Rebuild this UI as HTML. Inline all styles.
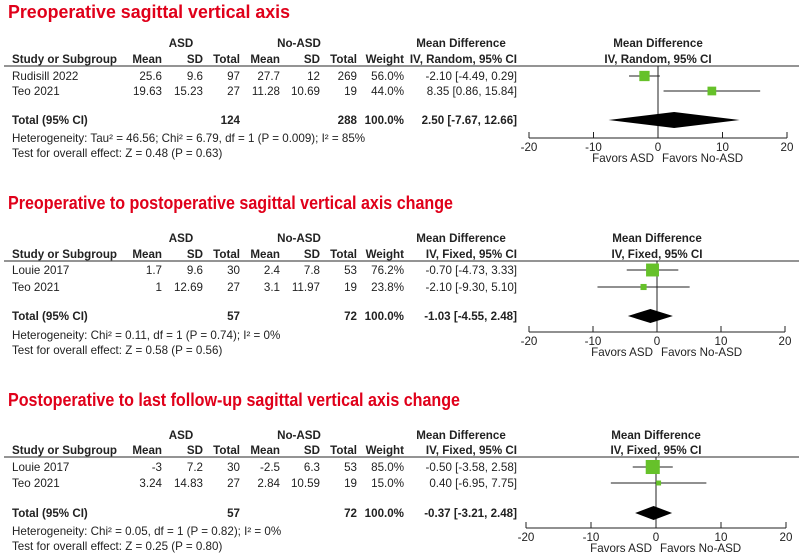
<!DOCTYPE html>
<html><head><meta charset="utf-8">
<style>
html,body{margin:0;padding:0;background:#fff;}
svg{display:block;font-family:"Liberation Sans",Arial,sans-serif;}
.t{font-size:11.6px;fill:#222;}
.b{font-weight:bold;}
.title{font-size:18px;font-weight:bold;fill:#e0001a;}
</style></head>
<body>
<svg id="chart" width="799" height="559" viewBox="0 0 799 559"></svg>
<script>
// Panel 1 data
const p1Titles = "Preoperative sagittal vertical axis";
const p1Studies = ["Rudisill 2022","Teo 2021"];
const p1AsdMean = ["25.6","19.63"], p1AsdSD = ["9.6","15.23"], p1AsdN = ["97","27"];
const p1NoMean = ["27.7","11.28"], p1NoSD = ["12","10.69"], p1NoN = ["269","19"];
const p1Weight = [56.0,44.0];
const p1MD = [-2.10,8.35], p1Lo = [-4.49,0.86], p1Hi = [0.29,15.84];
const p1Total = [2.50,-7.67,12.66], p1TotN = ["124","288"];
// Panel 2 data
const p2Studies = ["Louie 2017","Teo 2021"];
const p2AsdMean = ["1.7","1"], p2AsdSD = ["9.6","12.69"], p2AsdN = ["30","27"];
const p2NoMean = ["2.4","3.1"], p2NoSD = ["7.8","11.97"], p2NoN = ["53","19"];
const p2Weight = [76.2,23.8];
const p2MD = [-0.70,-2.10], p2Lo = [-4.73,-9.30], p2Hi = [3.33,5.10];
const p2Total = [-1.03,-4.55,2.48], p2TotN = ["57","72"];
// Panel 3 data
const p3Studies = ["Louie 2017","Teo 2021"];
const p3AsdMean = ["-3","3.24"], p3AsdSD = ["7.2","14.83"], p3AsdN = ["30","27"];
const p3NoMean = ["-2.5","2.84"], p3NoSD = ["6.3","10.59"], p3NoN = ["53","19"];
const p3Weight = [85.0,15.0];
const p3MD = [-0.50,0.40], p3Lo = [-3.58,-6.95], p3Hi = [2.58,7.75];
const p3Total = [-0.37,-3.21,2.48], p3TotN = ["57","72"];
const axisTicks = [-20,-10,0,10,20];

const NS="http://www.w3.org/2000/svg";
const svg=document.getElementById('chart');
function mk(tag,attrs,parent){const e=document.createElementNS(NS,tag);for(const k in attrs)e.setAttribute(k,attrs[k]);(parent||svg).appendChild(e);return e;}
function txt(x,y,s,anchor,cls,name,parent){const e=mk('text',{x:x,y:y,'text-anchor':anchor||'start','class':cls||'t'},parent);e.textContent=s;


return e;}
function f2(v){return v.toFixed(2);}

function panel(o){
  const g=mk('g',{});
  
  
  const tt=txt(8,o.y0,o.title,'start','title','panel-title',g);
  tt.setAttribute('textLength',o.tw);
  tt.setAttribute('lengthAdjust','spacingAndGlyphs');
  const c=o.cols;
  txt(c.asdC,o.hy1,'ASD','middle','t b','asd-group-header',g);
  txt(c.noC,o.hy1,'No-ASD','middle','t b','no-asd-group-header',g);
  txt(c.mdC,o.hy1,'Mean Difference','middle','t b','md-header',g);
  txt(o.zx,o.hy1,'Mean Difference','middle','t b','plot-header',g);
  txt(12,o.hy2,'Study or Subgroup','start','t b','study-column-header',g);
  const hdr=['Mean','SD','Total','Mean','SD','Total','Weight'];
  const xs=[c.m1,c.s1,c.n1,c.m2,c.s2,c.n2,c.w];
  hdr.forEach((h,i)=>txt(xs[i],o.hy2,h,'end','t b','column-header',g));
  txt(c.md,o.hy2,'IV, '+o.model+', 95% CI','end','t b','md-subheader',g);
  txt(o.zx,o.hy2,'IV, '+o.model+', 95% CI','middle','t b','plot-subheader',g);
  const hl=mk('line',{x1:4,x2:799,y1:o.line,y2:o.line,stroke:'#555','stroke-width':1.3},g);
  
  
  const X=v=>o.zx+v*o.scale;
  const z=mk('line',{x1:X(0),x2:X(0),y1:o.line,y2:o.axisY,stroke:'#222','stroke-width':1},g);
  
  
  o.studies.forEach((s,i)=>{
    const y=o.rows[i];
    txt(12,y+4,s,'start','t','study-name',g);
    const vals=[o.am[i],o.asd[i],o.an[i],o.nm[i],o.nsd[i],o.nn[i],o.w[i].toFixed(1)+'%'];
    vals.forEach((v,j)=>txt(xs[j],y+4,v,'end','t','cell-value',g));
    txt(c.md,y+4,f2(o.md[i])+' ['+f2(o.lo[i])+', '+f2(o.hi[i])+']','end','t','md-ci-value',g);
    const ci=mk('line',{x1:X(o.lo[i]),x2:X(o.hi[i]),y1:y,y2:y,stroke:'#222','stroke-width':1},g);
    
    
    const sz=3+o.w[i]*0.13;
    const r=mk('rect',{x:X(o.md[i])-sz/2,y:y-sz/2,width:sz,height:sz,fill:'#66c12a'},g);
    
    
  });
  const ty=o.totY;
  txt(12,ty+4,'Total (95% CI)','start','t b','total-label',g);
  txt(c.n1,ty+4,o.totN[0],'end','t b','total-n-asd',g);
  txt(c.n2,ty+4,o.totN[1],'end','t b','total-n-no-asd',g);
  txt(c.w,ty+4,'100.0%','end','t b','total-weight',g);
  txt(c.md,ty+4,f2(o.tot[0])+' ['+f2(o.tot[1])+', '+f2(o.tot[2])+']','end','t b','total-md',g);
  const h=o.dh;
  const d=mk('polygon',{points:[X(o.tot[1])+','+ty,X(o.tot[0])+','+(ty-h),X(o.tot[2])+','+ty,X(o.tot[0])+','+(ty+h)].join(' '),fill:'#000'},g);
  
  
  txt(12,o.hetY,o.het,'start','t','heterogeneity-text',g);
  txt(12,o.hetY+15,o.test,'start','t','overall-effect-text',g);
  const ax=mk('line',{x1:X(axisTicks[0]),x2:X(axisTicks[axisTicks.length-1]),y1:o.axisY,y2:o.axisY,stroke:'#222','stroke-width':1},g);
  
  
  axisTicks.forEach(t=>{
    const tk=mk('line',{x1:X(t),x2:X(t),y1:o.axisY-6,y2:o.axisY,stroke:'#222','stroke-width':1},g);
    
    
    txt(X(t),o.axisY+13,String(t),'middle','t','x-tick-label',g);
  });
  txt(X(0)-4,o.axisY+24,'Favors ASD','end','t','favors-asd-label',g);
  txt(X(0)+4,o.axisY+24,'Favors No-ASD','start','t','favors-no-asd-label',g);
}
const cols={asdC:181,noC:299,mdC:461,m1:162,s1:203,n1:240,m2:280,s2:320,n2:357,w:404,md:517};
panel({name:'panel-preoperative-sva',title:p1Titles,tw:282,y0:18,hy1:47,hy2:63,line:66,rows:[76,91],totY:120,hetY:142,axisY:138,dh:8,
 zx:658,scale:6.45,model:'Random',cols:cols,studies:p1Studies,am:p1AsdMean,asd:p1AsdSD,an:p1AsdN,nm:p1NoMean,nsd:p1NoSD,nn:p1NoN,
 w:p1Weight,md:p1MD,lo:p1Lo,hi:p1Hi,tot:p1Total,totN:p1TotN,
 het:'Heterogeneity: Tau\u00b2 = 46.56; Chi\u00b2 = 6.79, df = 1 (P = 0.009); I\u00b2 = 85%',test:'Test for overall effect: Z = 0.48 (P = 0.63)'});
panel({name:'panel-pre-to-post-change',title:'Preoperative to postoperative sagittal vertical axis change',tw:445,y0:209,hy1:242,hy2:258,line:261,rows:[270,287],totY:316,hetY:339,axisY:332,dh:7,
 zx:657,scale:6.4,model:'Fixed',cols:cols,studies:p2Studies,am:p2AsdMean,asd:p2AsdSD,an:p2AsdN,nm:p2NoMean,nsd:p2NoSD,nn:p2NoN,
 w:p2Weight,md:p2MD,lo:p2Lo,hi:p2Hi,tot:p2Total,totN:p2TotN,
 het:'Heterogeneity: Chi\u00b2 = 0.11, df = 1 (P = 0.74); I\u00b2 = 0%',test:'Test for overall effect: Z = 0.58 (P = 0.56)'});
panel({name:'panel-post-to-followup-change',title:'Postoperative to last follow-up sagittal vertical axis change',tw:452,y0:406,hy1:439,hy2:454,line:457,rows:[467,483],totY:513,hetY:535,axisY:528,dh:7,
 zx:656,scale:6.5,model:'Fixed',cols:cols,studies:p3Studies,am:p3AsdMean,asd:p3AsdSD,an:p3AsdN,nm:p3NoMean,nsd:p3NoSD,nn:p3NoN,
 w:p3Weight,md:p3MD,lo:p3Lo,hi:p3Hi,tot:p3Total,totN:p3TotN,
 het:'Heterogeneity: Chi\u00b2 = 0.05, df = 1 (P = 0.82); I\u00b2 = 0%',test:'Test for overall effect: Z = 0.25 (P = 0.80)'});
</script>
</body></html>
